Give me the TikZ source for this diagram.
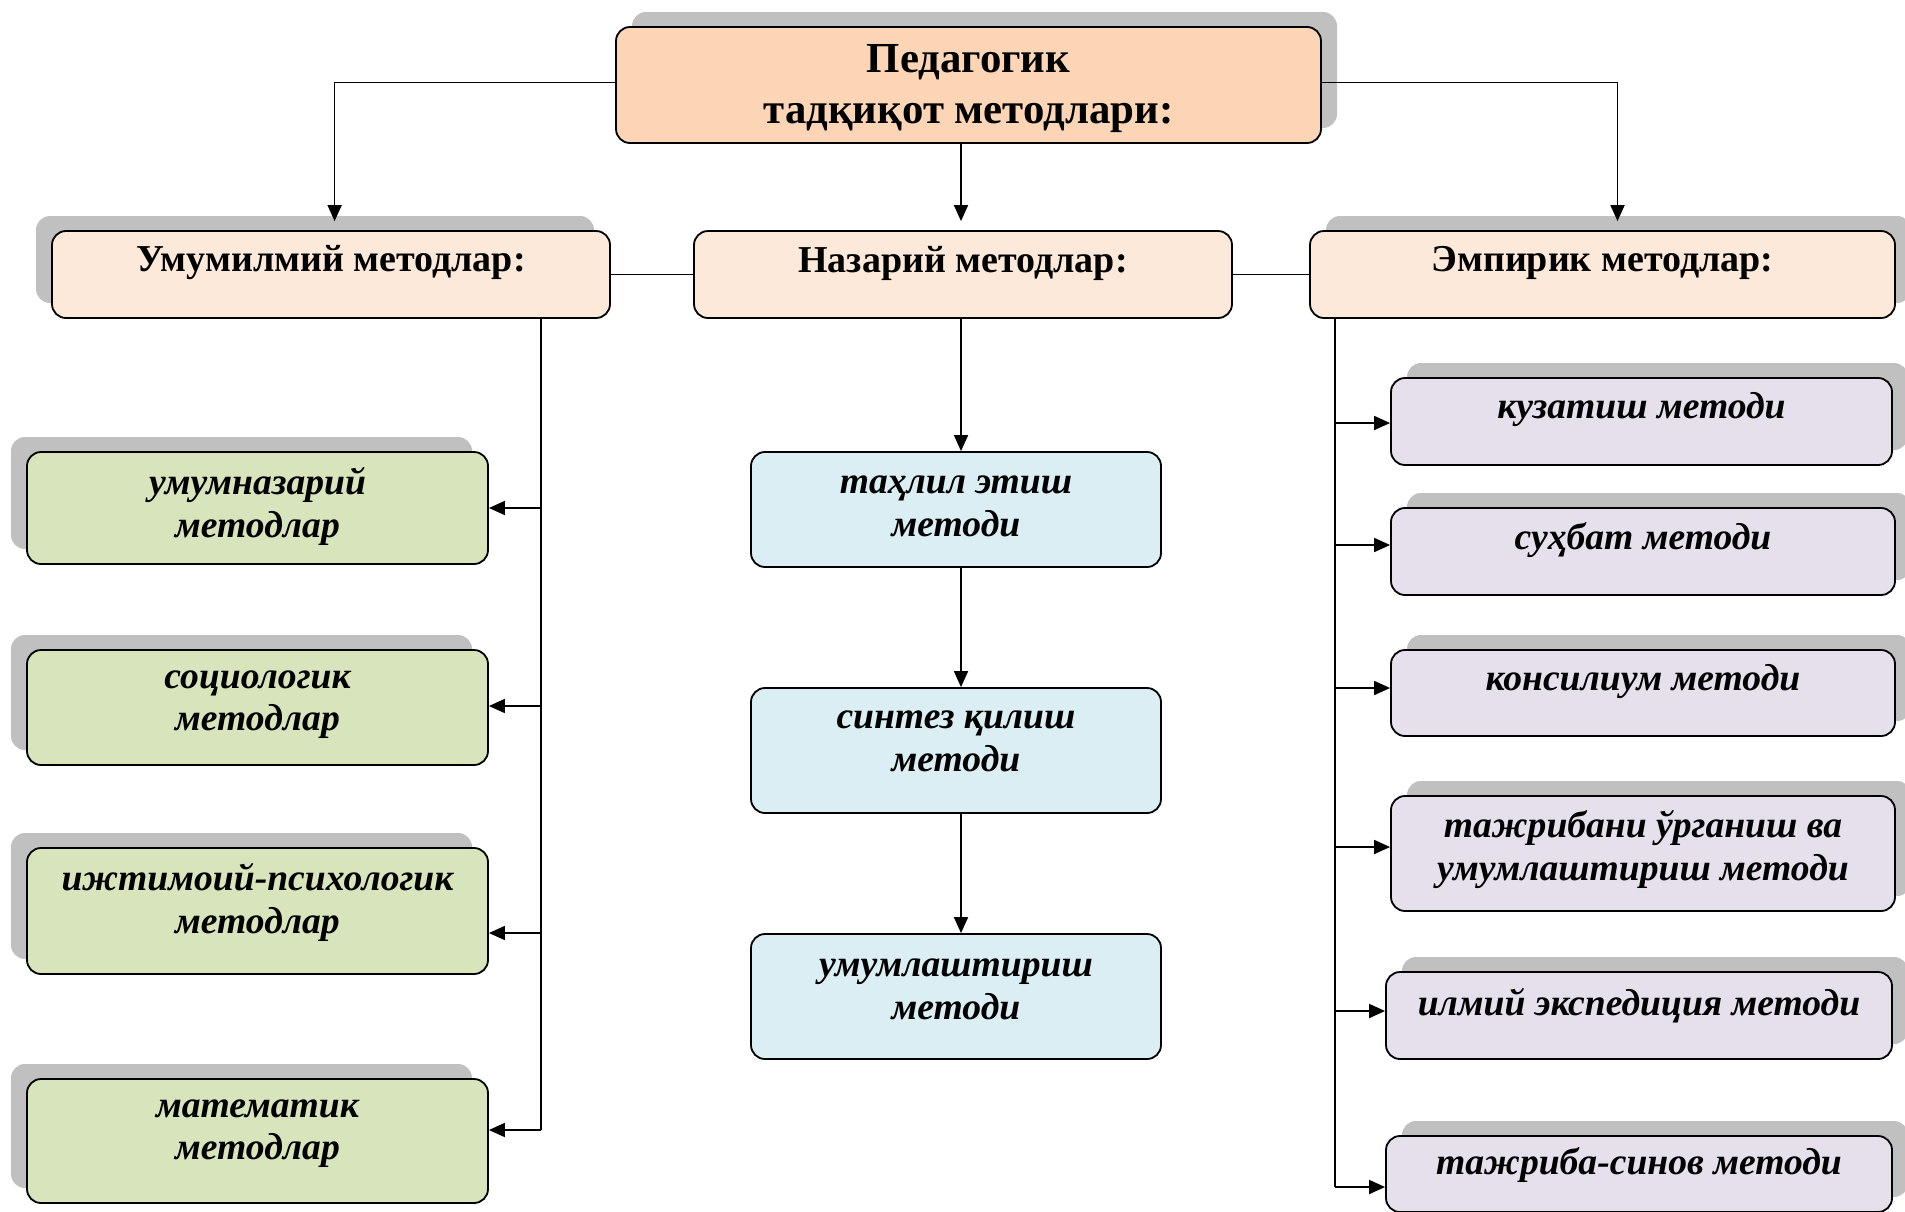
\documentclass[tikz,border=0pt]{standalone}
\usepackage{fontspec}
\setmainfont{Liberation Serif}
\usetikzlibrary{arrows.meta,shadows,calc}
\definecolor{topfill}{HTML}{FBD5B5}
\definecolor{lvfill}{HTML}{FDE9D9}
\definecolor{grfill}{HTML}{D7E4BC}
\definecolor{blfill}{HTML}{DBEEF3}
\definecolor{pufill}{HTML}{E5E0EC}
\definecolor{shd}{HTML}{C0C0C0}
\begin{document}
\begin{tikzpicture}[x=0.5pt,y=-0.5pt,
  box/.style 2 args={draw=black, line width=0.9pt, rounded corners=7pt,
    minimum width=#1*0.5pt, minimum height=#2*0.5pt, inner sep=0pt},
  shL/.style={drop shadow={shadow xshift=-8pt, shadow yshift=7.5pt, fill=shd, opacity=1}},
  shR/.style={drop shadow={shadow xshift=8pt, shadow yshift=7.5pt, fill=shd, opacity=1}},
  ttop/.style={font=\fontsize{21.4}{25.5}\selectfont\bfseries, align=center, inner sep=0pt},
  tlev/.style={font=\fontsize{19}{23}\selectfont\bfseries, align=center, inner sep=0pt},
  tit/.style={font=\fontsize{18.8}{21.25}\selectfont\bfseries\itshape, align=center, inner sep=0pt},
  conn/.style={line width=0.85pt},
  arr/.style={conn, -{Triangle[length=8pt,width=7pt]}}
]
\useasboundingbox (0,0) rectangle (1905,1211);

% top
\node[box={705}{116}, fill=topfill, shR] (top) at (968.5,85) {};
\node[ttop] (top-t) at (968.5,89) {Педагогик\\тадқиқот методлари:};

% level 2
\node[box={558}{87}, fill=lvfill, shL] (umu) at (331,274.5) {};
\node[tlev] (umu-t) at (331,263) {Умумилмий методлар:};
\node[box={538}{87}, fill=lvfill] (naz) at (963,274.5) {};
\node[tlev] (naz-t) at (963,263) {Назарий методлар:};
\node[box={585}{87}, fill=lvfill, shR] (emp) at (1602.5,274.5) {};
\node[tlev] (emp-t) at (1602.5,263) {Эмпирик методлар:};

% green
\node[box={461}{112}, fill=grfill, shL] (g1) at (257.5,508) {};
\node[tit] (g1-t) at (257.5,506.5) {умумназарий\\методлар};
\node[box={461}{115}, fill=grfill, shL] (g2) at (257.5,707.5) {};
\node[tit] (g2-t) at (257.5,704.5) {социологик\\методлар};
\node[box={461}{126}, fill=grfill, shL] (g3) at (257.5,911) {};
\node[tit] (g3-t) at (257.5,902.5) {ижтимоий-психологик\\методлар};
\node[box={461}{124}, fill=grfill, shL] (g4) at (257.5,1141) {};
\node[tit] (g4-t) at (257.5,1133.5) {математик\\методлар};

% blue
\node[box={410}{115}, fill=blfill] (b1) at (956,509.5) {};
\node[tit] (b1-t) at (956,506.5) {таҳлил этиш\\методи};
\node[box={410}{125}, fill=blfill] (b2) at (956,750.5) {};
\node[tit] (b2-t) at (956,741.5) {синтез қилиш\\методи};
\node[box={410}{125}, fill=blfill] (b3) at (956,996.5) {};
\node[tit] (b3-t) at (956,989.5) {умумлаштириш\\методи};

% purple
\node[box={501}{87}, fill=pufill, shR] (p1) at (1641.5,421.5) {};
\node[tit] (p1-t) at (1641.5,409.5) {кузатиш методи};
\node[box={504}{87}, fill=pufill, shR] (p2) at (1643,551.5) {};
\node[tit] (p2-t) at (1643,540.5) {суҳбат методи};
\node[box={504}{86}, fill=pufill, shR] (p3) at (1643,693) {};
\node[tit] (p3-t) at (1643,681.5) {консилиум методи};
\node[box={504}{115}, fill=pufill, shR] (p4) at (1643,853.5) {};
\node[tit] (p4-t) at (1643,849.5) {тажрибани ўрганиш ва\\умумлаштириш методи};
\node[box={506}{87}, fill=pufill, shR] (p5) at (1639,1015.5) {};
\node[tit] (p5-t) at (1639,1005.5) {илмий экспедиция методи};
\node[box={506}{76}, fill=pufill, shR] (p6) at (1639,1174) {};
\node[tit] (p6-t) at (1639,1165.5) {тажриба-синов методи};

% trunk points
\coordinate (cx) at (961,0);
\coordinate (lb1) at (541,508);
\coordinate (lb2) at (541,706);
\coordinate (lb3) at (541,933);
\coordinate (lb4) at (541,1130);
\coordinate (rb1) at (1335,423);
\coordinate (rb2) at (1335,545);
\coordinate (rb3) at (1335,688);
\coordinate (rb4) at (1335,847);
\coordinate (rb5) at (1335,1011);
\coordinate (rb6) at (1335,1187);

% connectors
\draw[arr, shorten >=4.5pt] ([yshift=1.2pt]top.west) -| ([xshift=1.8pt]umu.north);
\draw[arr, shorten >=4.5pt] ([yshift=1.2pt]top.east) -| ([xshift=7.5pt]emp.north);
\draw[arr, shorten >=4.5pt] (cx |- top.south) -- (cx |- naz.north);
\draw[conn] (umu.east) -- (naz.west);
\draw[conn] (naz.east) -- (emp.west);

\draw[arr] (cx |- naz.south) -- (cx |- b1.north);
\draw[arr] (cx |- b1.south) -- (cx |- b2.north);
\draw[arr] (cx |- b2.south) -- (cx |- b3.north);

\draw[conn] (lb1 |- umu.south) -- (lb4);
\draw[arr] (lb1) -- (lb1 -| g1.east);
\draw[arr] (lb2) -- (lb2 -| g2.east);
\draw[arr] (lb3) -- (lb3 -| g3.east);
\draw[arr] (lb4) -- (lb4 -| g4.east);

\draw[conn] (rb1 |- emp.south) -- (rb6);
\draw[arr] (rb1) -- (rb1 -| p1.west);
\draw[arr] (rb2) -- (rb2 -| p2.west);
\draw[arr] (rb3) -- (rb3 -| p3.west);
\draw[arr] (rb4) -- (rb4 -| p4.west);
\draw[arr] (rb5) -- (rb5 -| p5.west);
\draw[arr] (rb6) -- (rb6 -| p6.west);
\end{tikzpicture}
\end{document}
